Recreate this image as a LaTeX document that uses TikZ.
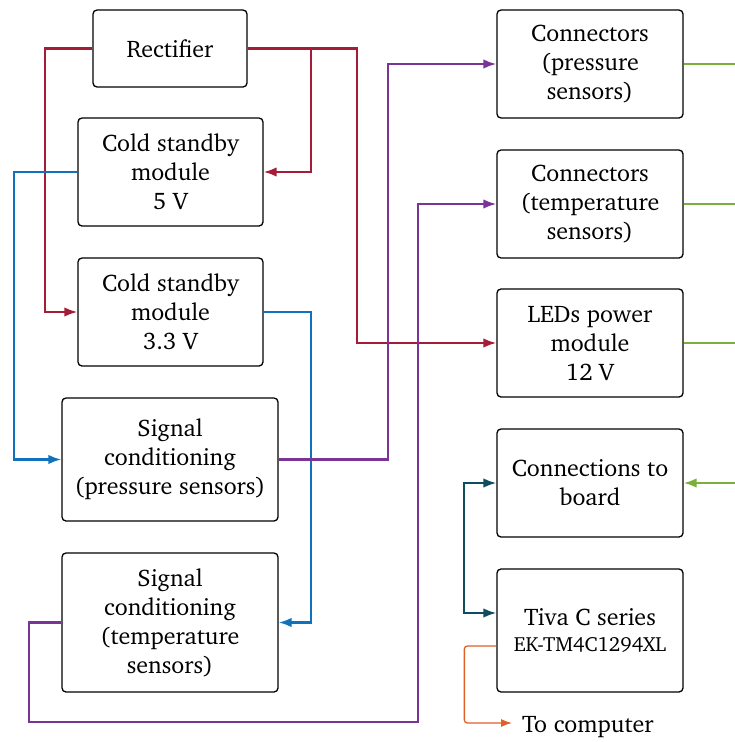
\documentclass[tikz,border=0pt]{standalone}
\usepackage[T1]{fontenc}
\usepackage{charter}
\usetikzlibrary{arrows.meta}
\definecolor{pwr}{RGB}{165,28,54}
\definecolor{lowv}{RGB}{16,114,189}
\definecolor{sig}{RGB}{122,51,150}
\definecolor{led}{RGB}{122,176,58}
\definecolor{bus}{RGB}{14,76,94}
\definecolor{usb}{RGB}{224,96,40}
\begin{document}
\begin{tikzpicture}[x=1pt,y=-1pt,
  blk/.style={draw,line width=1.3pt,rounded corners=4pt,align=center,inner sep=0pt,
    font=\fontsize{24}{29}\selectfont},
  wire/.style={line width=2.2pt,-{Latex[length=13pt,width=9.5pt]}},
  plain/.style={line width=2.2pt},
]
\useasboundingbox (0,0) rectangle (735,742);
\coordinate (rim) at (735,0);

% left column: power modules and signal conditioning
\node[blk,minimum width=154pt,minimum height=77pt] (rect) at (170,48.5) {Rectifier};
\node[blk,minimum width=185pt,minimum height=108pt] (c5) at (170.5,172) {Cold standby\\module\\5 V};
\node[blk,minimum width=185pt,minimum height=108pt] (c33) at (170.5,312) {Cold standby\\module\\3.3 V};
\node[blk,minimum width=216pt,minimum height=123pt] (sp) at (170,459.5) {Signal\\conditioning\\(pressure sensors)};
\node[blk,minimum width=216pt,minimum height=139pt] (st) at (170,622.5) {Signal\\conditioning\\(temperature\\sensors)};

% right column: connectors and board
\node[blk,minimum width=186pt,minimum height=108pt] (cp) at (590,64) {Connectors\\(pressure\\sensors)};
\node[blk,minimum width=186pt,minimum height=108pt] (ct) at (590,204) {Connectors\\(temperature\\sensors)};
\node[blk,minimum width=186pt,minimum height=108pt] (ld) at (590,343) {LEDs power\\module\\12 V};
\node[blk,minimum width=186pt,minimum height=108pt] (cb) at (590,483) {Connections to\\board};
\node[blk,minimum width=186pt,minimum height=123pt] (tiva) at (590,630.5)
  {Tiva C series\\[-3pt]{\fontsize{20.5}{24}\selectfont EK-TM4C1294XL}};
\node[anchor=west,inner sep=0pt,font=\fontsize{24}{29}\selectfont] (pc) at (522,727) {To computer};

% rectifier outputs
\draw[wire,pwr] (rect.west) -- ++(-47,0) |- (c33.west);
\draw[wire,pwr] (rect.east) -- ++(63,0) |- (c5.east);
\draw[wire,pwr] (rect.east) -- ++(109,0) |- (ld.west);

% low-voltage supplies to signal conditioning
\draw[wire,lowv] (c5.west) -- ++(-63,0) |- (sp.west);
\draw[wire,lowv] (c33.east) -- ++(47,0) |- (st.east);

% conditioned signals to connectors
\coordinate (tbend) at (418,722);
\draw[wire,sig] (sp.east) -- ++(109,0) |- (cp.west);
\draw[wire,sig] (st.west) -- ++(-32,0) |- (tbend) |- (ct.west);

% outputs leaving to the right
\draw[plain,led] (cp.east) -- (cp.east -| rim);
\draw[plain,led] (ct.east) -- (ct.east -| rim);
\draw[plain,led] (ld.east) -- (ld.east -| rim);
\draw[wire,led] (cb.east -| rim) -- (cb.east);

% board link and computer link
\draw[line width=2.2pt,bus,{Latex[length=13pt,width=9.5pt]}-{Latex[length=13pt,width=9.5pt]}]
  (cb.west) -- ++(-32,0) |- ([yshift=17.5pt]tiva.west);
\draw[line width=1.3pt,usb,rounded corners=3pt,-{Latex[length=11pt,width=8pt]}]
  ([yshift=-15.5pt]tiva.west) -- ++(-32,0) |- ([xshift=-10pt,yshift=4pt]pc.west);
\end{tikzpicture}
\end{document}
